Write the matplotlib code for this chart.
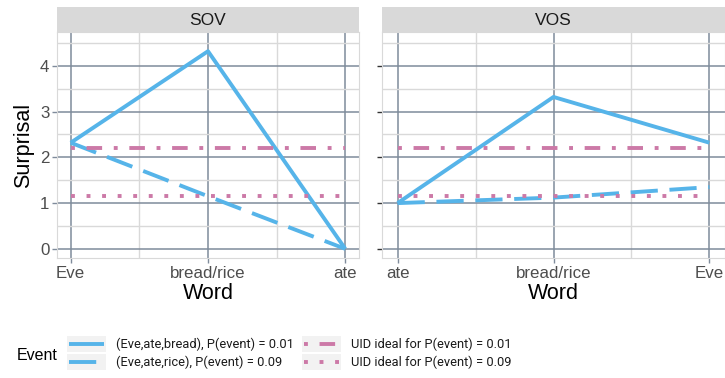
import matplotlib
matplotlib.use("Agg")
import matplotlib.pyplot as plt
from matplotlib.lines import Line2D
from matplotlib.patches import Rectangle

plt.rcParams["font.family"] = ["Liberation Sans", "DejaVu Sans"]

# Word order per condition
words_sov = ["Eve", "bread/rice", "ate"]
words_vos = ["ate", "bread/rice", "Eve"]

# Per-word surprisal (bits)
sov_bread = [2.32, 4.32, 0.0]
sov_rice = [2.32, 1.15, 0.0]
vos_bread = [1.0, 3.32, 2.32]
vos_rice = [1.0, 1.12, 1.35]

# Uniform information density ideal (total surprisal / 3)
uid_p001 = 2.21
uid_p009 = 1.16

event_labels = ["(Eve,ate,bread), P(event) = 0.01", "(Eve,ate,rice), P(event) = 0.09"]
uid_labels = ["UID ideal for P(event) = 0.01", "UID ideal for P(event) = 0.09"]

BLUE = "#56B4E9"
PINK = "#CC79A7"
MAJOR = "#7F8B9B"
MINOR = "#D9D9D9"
LW = 2.8

STY_SOLID = "-"
STY_LONGDASH = (0, (7, 3))
STY_DOTDASH = (0, (1, 3, 4, 3))
STY_DOTTED = (0, (1, 3))

W, H = 725, 378
fig = plt.figure(figsize=(W / 100, H / 100), dpi=100)


def frac(x0, y0, x1, y1):
    return [x0 / W, 1 - y1 / H, (x1 - x0) / W, (y1 - y0) / H]


def panel(rect, strip_rect, title, words, bread, rice, show_ylabels, ytick_color):
    ax = fig.add_axes(frac(*rect))
    xs = list(range(len(words)))
    ax.set_xlim(-0.1, 2.1)
    ax.set_ylim(-0.2, 4.74)
    ax.set_xticks(xs)
    ax.set_xticklabels(words)
    ax.set_xticks([0.5, 1.5], minor=True)
    ax.set_yticks([0, 1, 2, 3, 4])
    ax.set_yticks([0.5, 1.5, 2.5, 3.5, 4.5], minor=True)
    if not show_ylabels:
        ax.set_yticklabels([])
    ax.grid(True, which="major", color=MAJOR, lw=1.1, zorder=0)
    ax.grid(True, which="minor", color=MINOR, lw=1.0, zorder=0)
    ax.set_axisbelow(True)
    for s in ax.spines.values():
        s.set_color(MINOR)
        s.set_linewidth(0.8)
    ax.tick_params(which="major", length=3.5, width=1.0, color=MAJOR,
                   labelsize=12.2, labelcolor="#4D4D4D", pad=2)
    ax.tick_params(axis="y", which="major", color=ytick_color)
    ax.tick_params(which="minor", length=0)

    ax.plot(xs, bread, color=BLUE, lw=LW, ls=STY_SOLID, solid_capstyle="butt", zorder=3)
    ax.plot(xs, rice, color=BLUE, lw=LW, ls=STY_LONGDASH, dash_capstyle="butt", zorder=3)
    ax.plot([xs[0], xs[-1]], [uid_p001, uid_p001], color=PINK, lw=LW, ls=STY_DOTDASH,
            dash_capstyle="butt", zorder=4)
    ax.plot([xs[0], xs[-1]], [uid_p009, uid_p009], color=PINK, lw=LW, ls=STY_DOTTED,
            dash_capstyle="butt", zorder=4)
    ax.set_xlabel("Word", fontsize=15.5, labelpad=2)

    sax = fig.add_axes(frac(*strip_rect))
    sax.set_xlim(0, 1)
    sax.set_ylim(0, 1)
    sax.axis("off")
    sax.add_patch(Rectangle((0, 0), 1, 1, color="#D9D9D9", transform=sax.transAxes, lw=0))
    sax.text(0.5, 0.45, title, ha="center", va="center", fontsize=12.5, color="#1A1A1A")
    return ax


ax1 = panel((57, 32, 359, 258), (57, 7, 359, 32), "SOV", words_sov, sov_bread, sov_rice,
            True, MAJOR)
ax1.set_ylabel("Surprisal", fontsize=15.5, labelpad=4)
ax2 = panel((382, 32, 725, 258), (382, 7, 725, 32), "VOS", words_vos, vos_bread, vos_rice,
            False, "#333333")

# Legend drawn in figure pixel space
lg = fig.add_axes([0, 0, 1, 1])
lg.set_xlim(0, W)
lg.set_ylim(H, 0)
lg.axis("off")
lg.text(17, 355, "Event", fontsize=11.5, va="center", ha="left")

rows = [344, 362]
entries = [
    (67, BLUE, STY_SOLID, event_labels[0], rows[0]),
    (67, BLUE, STY_LONGDASH, event_labels[1], rows[1]),
    (302, PINK, STY_DOTDASH, uid_labels[0], rows[0]),
    (302, PINK, STY_DOTTED, uid_labels[1], rows[1]),
]
for kx, col, sty, lab, ry in entries:
    lg.add_patch(Rectangle((kx, ry - 8), 39, 16, color="#F2F2F2", lw=0))
    lg.add_line(Line2D([kx + 2, kx + 37], [ry, ry], color=col, lw=LW, ls=sty,
                       solid_capstyle="butt", dash_capstyle="butt"))
    lg.text(kx + 49, ry, lab, fontsize=9.3, va="center", ha="left", color="#1A1A1A",
            family=["Roboto", "DejaVu Sans"])

fig.savefig("out.png", dpi=100)
